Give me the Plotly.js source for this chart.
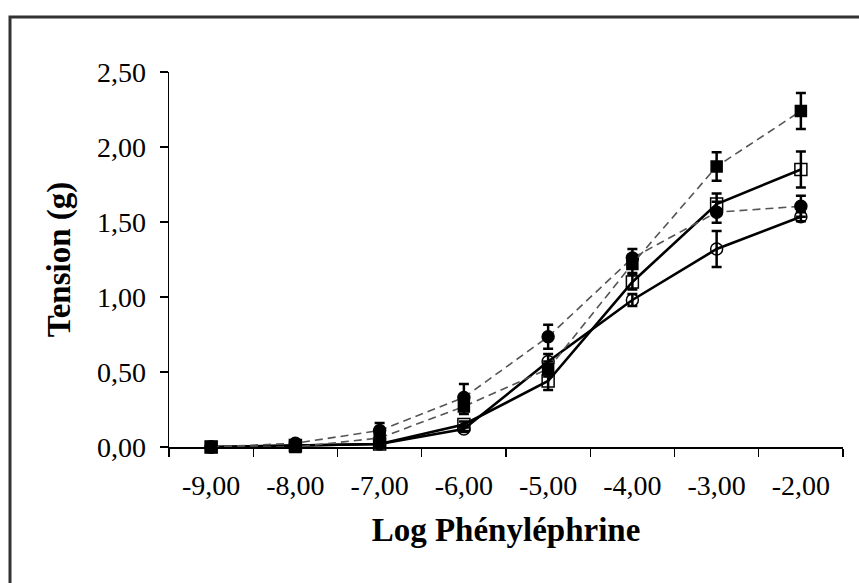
<!DOCTYPE html>
<html>
<head>
<meta charset="utf-8">
<script src="https://cdn.plot.ly/plotly-3.0.1.min.js"></script>
<style>html,body{margin:0;padding:0;background:#fff;}#chart{width:859px;height:583px;}</style>
</head>
<body>
<div id="chart"></div>
<script>
var categories = ["-9,00", "-8,00", "-7,00", "-6,00", "-5,00", "-4,00", "-3,00", "-2,00"];

var filledSquare = [0.00, 0.00, 0.06, 0.27, 0.52, 1.22, 1.87, 2.24];
var filledSquareErr = [0.00, 0.00, 0.05, 0.05, 0.05, 0.06, 0.095, 0.12];

var openSquare = [0.00, 0.01, 0.02, 0.15, 0.44, 1.10, 1.62, 1.85];
var openSquareErr = [0.00, 0.00, 0.01, 0.02, 0.06, 0.05, 0.07, 0.12];

var filledCircle = [0.00, 0.025, 0.11, 0.33, 0.735, 1.26, 1.565, 1.605];
var filledCircleErr = [0.00, 0.01, 0.05, 0.09, 0.08, 0.06, 0.07, 0.07];

var openCircle = [0.00, 0.01, 0.02, 0.12, 0.57, 0.98, 1.32, 1.535];
var openCircleErr = [0.00, 0.00, 0.01, 0.02, 0.05, 0.04, 0.12, 0.03];

var yTicks = [0, 0.5, 1, 1.5, 2, 2.5];
var yTickText = ["0,00", "0,50", "1,00", "1,50", "2,00", "2,50"];

function trace(y, err, symbol, dashed, size) {
  return {
    x: categories, y: y, type: 'scatter', mode: 'lines+markers',
    line: {color: dashed ? '#555555' : '#000000', width: dashed ? 1.6 : 2.6, dash: dashed ? '8px,5px' : 'solid'},
    marker: {symbol: symbol, size: size, color: '#000000', line: {color: '#000000', width: 1.5}},
    error_y: {type: 'data', array: err, visible: true, color: '#000000', thickness: 2.5, width: 5},
    showlegend: false, cliponaxis: false
  };
}

var data = [
  trace(openCircle, openCircleErr, 'circle-open', false, 12),
  trace(openSquare, openSquareErr, 'square-open', false, 12),
  trace(filledCircle, filledCircleErr, 'circle', true, 12),
  trace(filledSquare, filledSquareErr, 'square', true, 11)
];

var layout = {
  width: 859, height: 583,
  margin: {l: 169, r: 16, t: 72, b: 136, pad: 0},
  paper_bgcolor: '#ffffff', plot_bgcolor: '#ffffff',
  font: {family: 'Liberation Serif, Times New Roman, serif', color: '#000000', size: 28},
  xaxis: {
    type: 'category', tickson: 'boundaries', range: [-0.5, 7.5],
    showgrid: false, zeroline: false, showline: true, linecolor: '#000000', linewidth: 1.5,
    ticks: 'outside', ticklen: 8, tickwidth: 1.2, tickcolor: '#000000',
    tickfont: {size: 28}, ticklabelstandoff: 13,
    title: {text: '<b>Log Phényléphrine</b>', font: {size: 33}, standoff: 18}
  },
  yaxis: {
    range: [0, 2.5], tickmode: 'array', tickvals: yTicks, ticktext: yTickText,
    showgrid: false, zeroline: false, showline: true, linecolor: '#000000', linewidth: 1.5,
    ticks: 'outside', ticklen: 8, tickwidth: 1.2, tickcolor: '#000000',
    tickfont: {size: 28}, ticklabelstandoff: 8,
    title: {text: '<b>Tension (g)</b>', font: {size: 33}, standoff: 16}
  },
  shapes: [{
    type: 'rect', xref: 'paper', yref: 'paper',
    x0: (10 - 169) / 674, x1: 1.2, y0: -0.5, y1: 1 + (72 - 17) / 375,
    line: {color: '#333333', width: 3}, fillcolor: 'rgba(0,0,0,0)', layer: 'below'
  }]
};

Plotly.newPlot('chart', data, layout, {displayModeBar: false, staticPlot: true});
</script>
</body>
</html>
